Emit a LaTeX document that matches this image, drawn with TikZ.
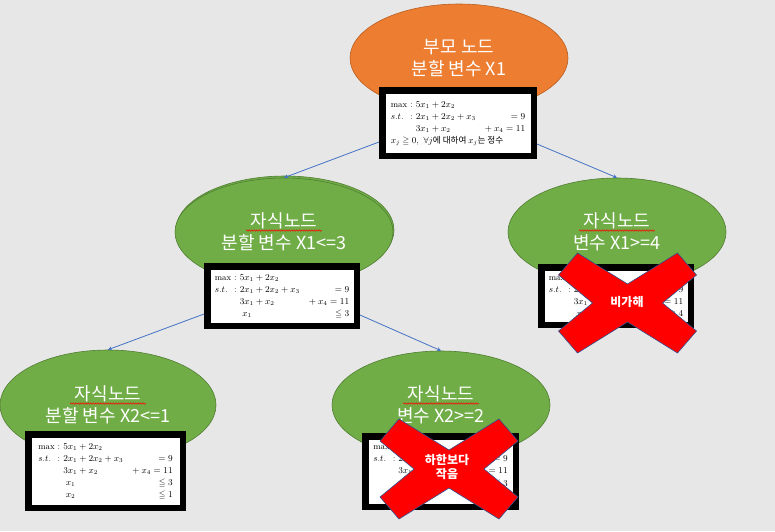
\documentclass[tikz,border=0pt]{standalone}
\usepackage{fontspec}
\usepackage{amsmath,amssymb}
\usetikzlibrary{shapes.geometric,arrows.meta,shadows,decorations.pathmorphing,calc}
\newfontfamily\kr{Noto Sans CJK KR}
\definecolor{bg}{RGB}{231,231,231}
\definecolor{orng}{HTML}{ED7D31}
\definecolor{orngline}{HTML}{B85F22}
\definecolor{grn}{HTML}{70AD47}
\definecolor{grnline}{HTML}{507E32}
\definecolor{conn}{HTML}{4472C4}
\definecolor{xline}{HTML}{2F528F}
\newcommand{\lpbody}[1]{%
\fontsize{8.6}{12.2}\selectfont
$\begin{array}{@{}l@{\ }l@{\ }l@{\hspace{7pt}}r@{}}
\mathrm{max} & : & 5x_1+2x_2 & \\
s.t. & : & 2x_1+2x_2+x_3 & {}=9\\
 & & 3x_1+x_2 & {}+x_4=11\\
#1
\end{array}$}
\tikzset{
 oval/.style={ellipse, minimum width=218pt, minimum height=108pt, inner sep=0pt, align=center, text=white, font=\kr\fontsize{18}{22}\selectfont, line width=0.6pt},
 parent/.style={oval, fill=orng, draw=orngline},
 child/.style={oval, fill=grn, draw=grnline},
 lpbox/.style={draw=black, line width=6.5pt, fill=white, inner sep=0pt, drop shadow={shadow xshift=2pt, shadow yshift=-2pt, fill=black, opacity=0.35}},
 link/.style={draw=conn, line width=0.8pt, -{Stealth[length=4pt,width=4pt]}},
 crossx/.style={fill=red, draw=xline, line width=0.6pt},
 xlabel/.style={text=white, font=\kr\bfseries\fontsize{12}{14}\selectfont, align=center, inner sep=0pt},
 squiggle/.style={draw=red, line width=0.5pt, decorate, decoration={snake, amplitude=0.7pt, segment length=2.5pt}},
}
\begin{document}
\begin{tikzpicture}[x=1pt,y=-1pt]
\fill[bg] (0,0) rectangle (775,531);
\useasboundingbox (0,0) rectangle (775,531);

% ellipses
\node[parent] (root) at (459,58) {부모 노드\\분할 변수 X1};
\node[child] (lcback) at (285,230) {};
\node[child] (lc) at (284,232) {자식노드\\분할 변수 X1<=3};
\node[child] (rc) at (617,232) {자식노드\\변수 X1>=4};
\node[child, minimum width=216pt, minimum height=110pt] (ll) at (108,405) {자식노드\\분할 변수 X2<=1};
\node[child] (lr) at (441,405) {자식노드\\변수 X2>=2};

% spell-check squiggles
\draw[squiggle] ($(lc)+(-38,-1.5)$) -- ($(lc)+(38,-1.5)$);
\draw[squiggle] ($(rc)+(-38,-1.5)$) -- ($(rc)+(38,-1.5)$);
\draw[squiggle] ($(ll)+(-38,-1.5)$) -- ($(ll)+(38,-1.5)$);
\draw[squiggle] ($(lr)+(-38,-1.5)$) -- ($(lr)+(38,-1.5)$);

% LP boxes
\node[lpbox, minimum width=151.5pt, minimum height=65.5pt] (rb) at (458,123)
 {\lpbody{\multicolumn{4}{@{}l@{}}{x_j\geqq 0,\ \forall j\text{\kr 에 대하여 }x_j\text{\kr 는 정수}}}};
\node[lpbox, minimum width=149.5pt, minimum height=59.5pt] (lb) at (282,296)
 {\lpbody{ & & \;x_1 & {}\leqq 3}};
\node[lpbox, minimum width=149.5pt, minimum height=57.5pt] (rcb) at (616,296)
 {\lpbody{ & & \;x_1 & {}\geqq 4}};
\node[lpbox, minimum width=154.5pt, minimum height=73.5pt] (llb) at (105.5,471)
 {\lpbody{ & & \;x_1 & {}\leqq 3\\ & & \;x_2 & {}\leqq 1}};
\node[lpbox, minimum width=150.5pt, minimum height=70.5pt] (lrb) at (440.5,471.5)
 {\lpbody{ & & \;x_1 & {}\leqq 3\\ & & \;x_2 & {}\geqq 2}};

% connectors
\draw[link] ([yshift=-19pt]rb.west) -- (lc.north);
\draw[link] ([yshift=-21pt]rb.east) -- (rc.north);
\draw[link] ([yshift=-18pt]lb.west) -- (ll.north);
\draw[link] ([yshift=-19pt]lb.east) -- (lr.north);

% red crosses
\begin{scope}[shift={(627.5,303)}]
\draw[crossx] (-69,-28) -- (-50,-50) -- (0,-19) -- (50,-50) -- (69,-28) -- (35,0) -- (69,28) -- (50,50) -- (0,19) -- (-50,50) -- (-69,28) -- (-35,0) -- cycle;
\end{scope}
\begin{scope}[shift={(449,469)}]
\draw[crossx] (-69,-28) -- (-50,-50) -- (0,-19) -- (50,-50) -- (69,-28) -- (35,0) -- (69,28) -- (50,50) -- (0,19) -- (-50,50) -- (-69,28) -- (-35,0) -- cycle;
\end{scope}
\node[xlabel] (x1lab) at (627,302) {비가해};
\node[xlabel] (x2lab) at (447,467) {하한보다\\작음};
\draw[squiggle] ($(x1lab)+(-19,6)$) -- ($(x1lab)+(19,6)$);
\end{tikzpicture}
\end{document}
